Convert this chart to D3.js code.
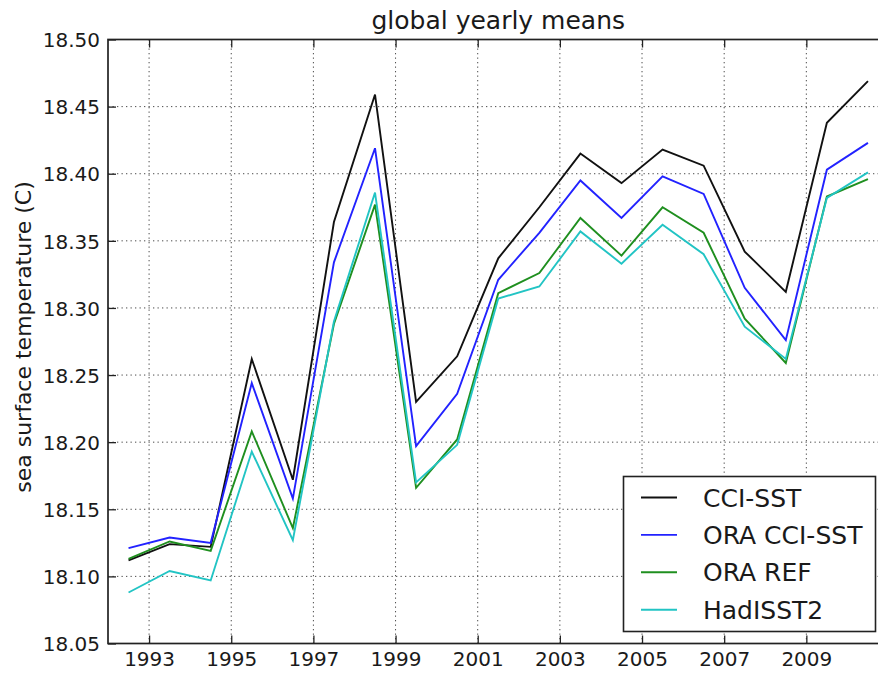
<!DOCTYPE html>
<html>
<head>
<meta charset="utf-8">
<script src="https://cdn.jsdelivr.net/npm/d3@7"></script>
<style>
  html, body { margin: 0; padding: 0; background: #fff; }
  svg { display: block; font-family: "DejaVu Sans", sans-serif; }
</style>
</head>
<body>
<svg id="chart" width="878" height="673"></svg>
<script>
// Yearly mid-points of the global mean SST records
const years = [1992.5, 1993.5, 1994.5, 1995.5, 1996.5, 1997.5, 1998.5, 1999.5, 2000.5, 2001.5,
               2002.5, 2003.5, 2004.5, 2005.5, 2006.5, 2007.5, 2008.5, 2009.5, 2010.5];

const cciSst    = [18.112, 18.124, 18.122, 18.262, 18.172, 18.364, 18.459, 18.230, 18.264, 18.337,
                   18.375, 18.415, 18.393, 18.418, 18.406, 18.342, 18.312, 18.438, 18.469];
const oraCciSst = [18.121, 18.129, 18.125, 18.244, 18.158, 18.334, 18.419, 18.197, 18.236, 18.321,
                   18.356, 18.395, 18.367, 18.398, 18.385, 18.315, 18.276, 18.403, 18.423];
const oraRef    = [18.113, 18.126, 18.119, 18.208, 18.136, 18.288, 18.377, 18.166, 18.202, 18.311,
                   18.326, 18.367, 18.339, 18.375, 18.356, 18.292, 18.259, 18.383, 18.396];
const hadIsst2  = [18.088, 18.104, 18.097, 18.193, 18.127, 18.290, 18.386, 18.170, 18.198, 18.307,
                   18.316, 18.357, 18.333, 18.362, 18.340, 18.286, 18.262, 18.382, 18.401];

const seriesNames  = ["CCI-SST", "ORA CCI-SST", "ORA REF", "HadISST2"];
const seriesValues = [cciSst, oraCciSst, oraRef, hadIsst2];
const seriesColors = ["#111111", "#2222ff", "#1f8f1f", "#22c4c4"];

const xTicks = [1993, 1995, 1997, 1999, 2001, 2003, 2005, 2007, 2009];
const yTicks = [18.05, 18.10, 18.15, 18.20, 18.25, 18.30, 18.35, 18.40, 18.45, 18.50];

const svg = d3.select("#chart");
const plotLeft = 108, plotRight = 888.5, plotTop = 39.5, plotBottom = 643.5;

const x = d3.scaleLinear().domain([1992, 2011]).range([plotLeft, plotRight]);
const y = d3.scaleLinear().domain([18.05, 18.50]).range([plotBottom, plotTop]);

// dotted grid
const grid = svg.append("g").attr("stroke", "#4a4a4a").attr("stroke-width", 1)
  .attr("stroke-dasharray", "1.3,3.2");
grid.selectAll("line.gx").data(xTicks).join("line")
  .attr("x1", d => x(d)).attr("x2", d => x(d)).attr("y1", plotTop).attr("y2", plotBottom);
grid.selectAll("line.gy").data(yTicks.slice(1, -1)).join("line")
  .attr("y1", d => y(d)).attr("y2", d => y(d)).attr("x1", plotLeft).attr("x2", plotRight);

// series lines
const line = d3.line().x(d => x(d[0])).y(d => y(d[1]));
svg.append("g").selectAll("path").data(seriesValues).join("path")
  .attr("d", vals => line(years.map((yr, i) => [yr, vals[i]])))
  .attr("fill", "none")
  .attr("stroke", (d, i) => seriesColors[i])
  .attr("stroke-width", 1.9)
  .attr("stroke-linejoin", "miter");

// axes with inward ticks
const fontSize = "20px";
const xAxis = svg.append("g").attr("transform", `translate(0,${plotBottom})`)
  .call(d3.axisBottom(x).tickValues(xTicks).tickFormat(d3.format("d")).tickSize(-8).tickPadding(8));
const xAxisTop = svg.append("g").attr("transform", `translate(0,${plotTop})`)
  .call(d3.axisTop(x).tickValues(xTicks).tickFormat("").tickSize(-8));
const yAxis = svg.append("g").attr("transform", `translate(${plotLeft},0)`)
  .call(d3.axisLeft(y).tickValues(yTicks).tickFormat(d3.format(".2f")).tickSize(-8).tickPadding(8));

[xAxis, xAxisTop, yAxis].forEach(g => {
  g.select(".domain").remove();
  g.selectAll(".tick line").attr("stroke", "#222").attr("stroke-width", 1.3);
  g.selectAll("text").attr("fill", "#1a1a1a").style("font-size", fontSize)
    .style("font-family", "DejaVu Sans, sans-serif");
});
yAxis.selectAll("text").attr("dy", "0.36em");

// frame (right side falls beyond the canvas)
svg.append("rect")
  .attr("x", plotLeft).attr("y", plotTop)
  .attr("width", plotRight - plotLeft).attr("height", plotBottom - plotTop)
  .attr("fill", "none").attr("stroke", "#222").attr("stroke-width", 1.7);

// title and axis label
svg.append("text")
  .attr("x", (plotLeft + plotRight) / 2).attr("y", 29)
  .attr("text-anchor", "middle")
  .style("font-size", "25px").attr("fill", "#1a1a1a")
  .text("global yearly means");

svg.append("text")
  .attr("transform", `translate(31,337) rotate(-90)`)
  .attr("text-anchor", "middle")
  .style("font-size", "22px").attr("fill", "#1a1a1a")
  .text("sea surface temperature (C)");

// legend
const legendBox = { x: 623.5, y: 476.5, w: 252, h: 155 };
const legend = svg.append("g");
legend.append("rect")
  .attr("x", legendBox.x).attr("y", legendBox.y)
  .attr("width", legendBox.w).attr("height", legendBox.h)
  .attr("fill", "#fff").attr("stroke", "#222").attr("stroke-width", 1.6);

const rowY = i => legendBox.y + 21 + i * 37.4;
const rows = legend.selectAll("g.row").data(seriesNames).join("g");
rows.append("line")
  .attr("x1", 641).attr("x2", 677)
  .attr("y1", (d, i) => rowY(i)).attr("y2", (d, i) => rowY(i))
  .attr("stroke", (d, i) => seriesColors[i]).attr("stroke-width", 1.9);
rows.append("text")
  .attr("x", 703).attr("y", (d, i) => rowY(i)).attr("dy", "0.36em")
  .style("font-size", "25px").attr("fill", "#1a1a1a")
  .text(d => d);
</script>
</body>
</html>
